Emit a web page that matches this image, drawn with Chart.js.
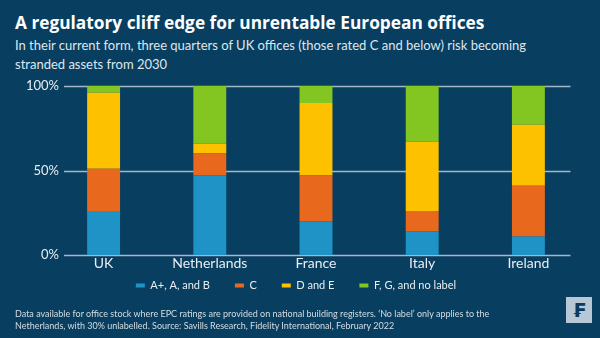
<!DOCTYPE html>
<html>
<head>
<meta charset="utf-8">
<script src="https://cdn.jsdelivr.net/npm/chart.js@4.4.1/dist/chart.umd.min.js"></script>
<style>
  html, body { margin: 0; padding: 0; }
  body { width: 600px; height: 338px; background: #083e5f; position: relative; overflow: hidden; font-family: Lato, "Open Sans", sans-serif; }
  #chart { position: absolute; left: 0; top: 0; }
  .title { position: absolute; left: 15px; top: 11px; color: #fff; font: bold 17.3px "Open Sans", sans-serif; white-space: nowrap; }
  .sub { position: absolute; left: 15px; top: 36px; color: #dfe7ee; font-size: 13px; line-height: 19px; width: 560px; }
  .note { position: absolute; left: 15px; top: 308px; color: #d3dde5; font-size: 9px; line-height: 12px; width: 500px; }
  .logo { position: absolute; left: 566px; top: 297px; width: 26px; height: 26px; background: #b7c7d5; color: #0b3a5a; font: bold 19px "DejaVu Sans", sans-serif; text-align: center; line-height: 26px; }
</style>
</head>
<body>
<div class="title">A regulatory cliff edge for unrentable European offices</div>
<div class="sub">In their current form, three quarters of UK offices (those rated C and below) risk becoming<br>stranded assets from 2030</div>
<canvas id="chart" width="600" height="338"></canvas>
<div class="note">Data available for office stock where EPC ratings are provided on national building registers. ‘No label’ only applies to the<br>Netherlands, with 30% unlabelled. Source: Savills Research, Fidelity International, February 2022</div>
<div class="logo">₣</div>
<script>
// countries and rating shares (%)
const countries = ["UK", "Netherlands", "France", "Italy", "Ireland"];
const ratingAB = [26, 47, 20, 14, 11];
const ratingC = [25, 13, 27, 12, 30];
const ratingDE = [45, 6, 43, 41, 36];
const ratingFG = [4, 34, 10, 33, 23];
const yTicks = [0, 50, 100];

const tickFont = { family: "Lato", size: 13 };

// y labels sit inside the plot (mirror), right edge ~8.5px in
const m = document.createElement("canvas").getContext("2d");
m.font = "13px Lato";
const widest = m.measureText("100%").width;

// grid lines shorter than the plot, behind the bars
const shortGrid = {
  id: "shortGrid",
  beforeDatasetsDraw(chart) {
    const { ctx, chartArea, scales } = chart;
    ctx.save();
    ctx.strokeStyle = "#a3b9ca";
    ctx.lineWidth = 1.5;
    yTicks.forEach((v) => {
      const y = Math.round(scales.y.getPixelForValue(v)) + 0.5;
      ctx.beginPath();
      ctx.moveTo(chartArea.left + 13.5, y);
      ctx.lineTo(chartArea.right - 11, y);
      ctx.stroke();
    });
    ctx.restore();
  },
};

const ctx = document.getElementById("chart");
new Chart(ctx, {
  type: "bar",
  data: {
    labels: countries,
    datasets: [
      { label: "A+, A, and B", data: ratingAB, backgroundColor: "#1f93c6" },
      { label: "C", data: ratingC, backgroundColor: "#e8691d" },
      { label: "D and E", data: ratingDE, backgroundColor: "#fdc100" },
      { label: "F, G, and no label", data: ratingFG, backgroundColor: "#83c521" },
    ],
  },
  options: {
    responsive: false,
    animation: false,
    layout: { padding: { left: 10.5, right: 18.5, top: 86, bottom: 37 } },
    datasets: { bar: { barPercentage: 0.31, categoryPercentage: 1 } },
    plugins: {
      legend: {
        position: "bottom",
        labels: {
          boxWidth: 9,
          boxHeight: 4,
          padding: 25,
          color: "#e8eef3",
          font: { family: "Lato", size: 11 },
        },
      },
      tooltip: { enabled: false },
    },
    scales: {
      x: {
        stacked: true,
        grid: { display: false, drawTicks: false },
        border: { display: false },
        ticks: { color: "#e8eef3", font: { family: "Lato", size: 14 }, padding: -17, mirror: true },
        afterFit: (s) => { s.height = 0; },
      },
      y: {
        stacked: true,
        min: 0,
        max: 100,
        grid: { display: false, drawTicks: false },
        border: { display: false },
        ticks: {
          stepSize: 50,
          mirror: true,
          crossAlign: "far",
          padding: 8.5 - widest,
          color: "#e8eef3",
          font: tickFont,
          callback: (v) => v + "%",
        },
        afterFit: (s) => { s.width = 40; },
      },
    },
  },
  plugins: [shortGrid],
});
</script>
</body>
</html>
